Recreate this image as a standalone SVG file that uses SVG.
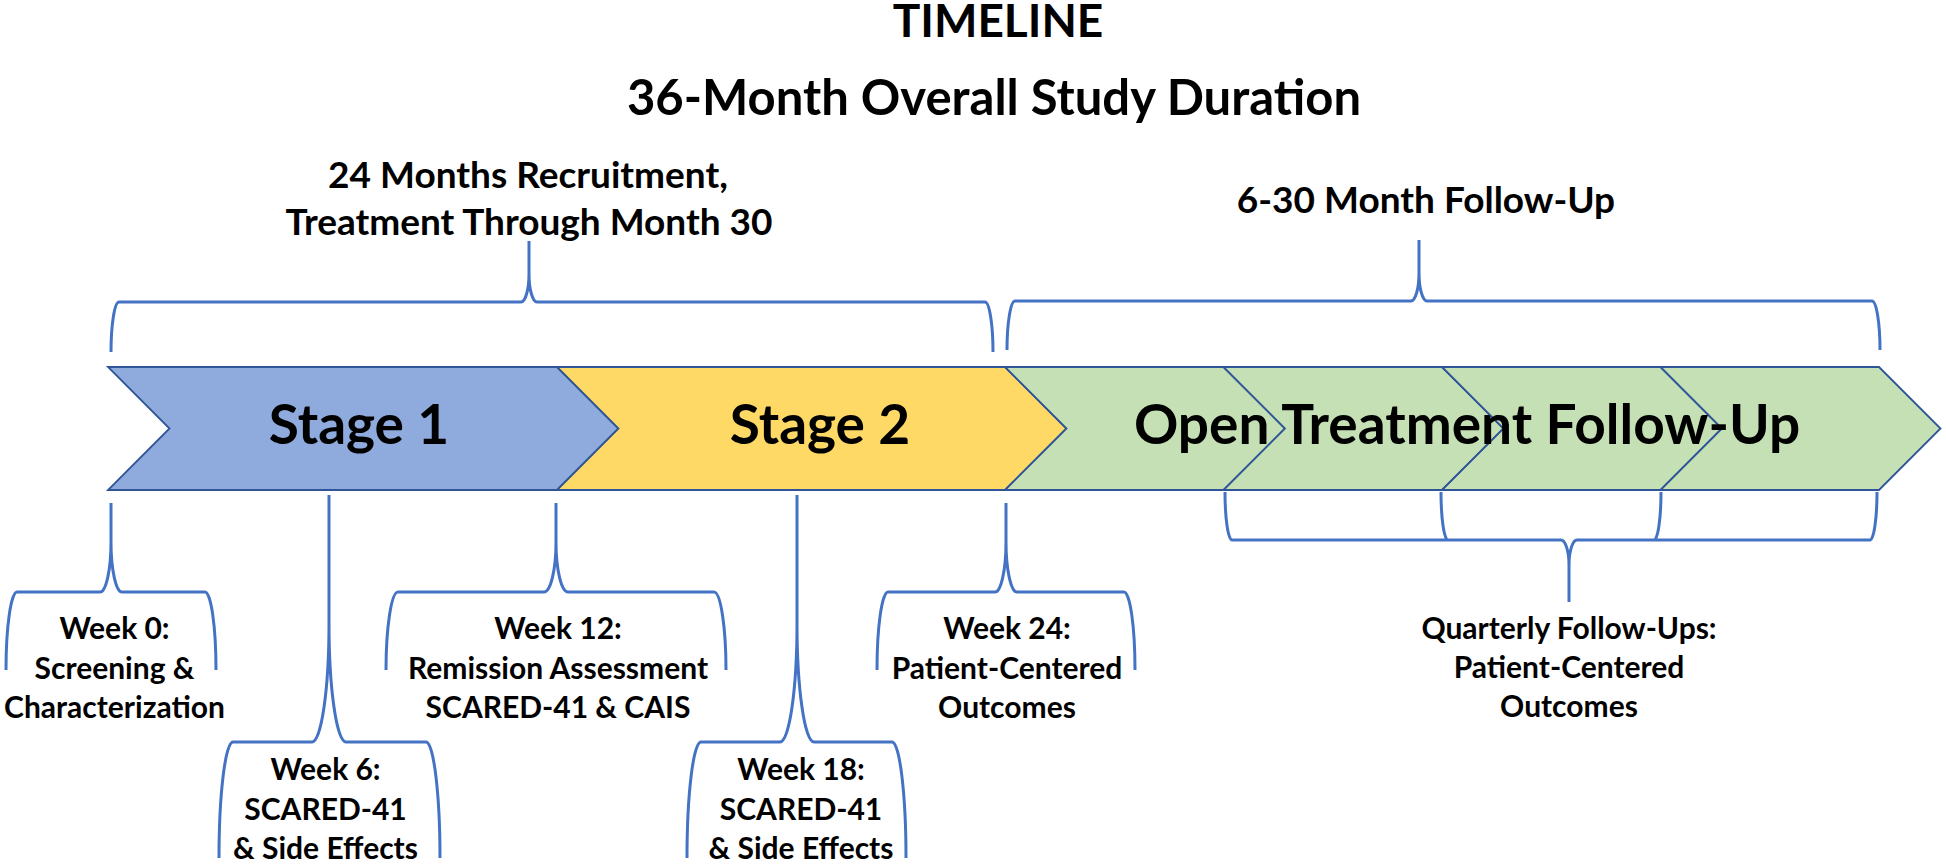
<svg xmlns="http://www.w3.org/2000/svg" width="1946" height="865" viewBox="0 0 1946 865">
<style>
text{font-family:Lato,"Liberation Sans",sans-serif;font-weight:700;fill:#000;text-anchor:middle}
.t1{font-size:46px}
.t2{font-size:49px}
.span{font-size:37px}
.stage{font-size:55px}
.lbl{font-size:30px}
.chev{stroke:#2F5597;stroke-width:1.8;stroke-linejoin:miter}
.s1{fill:#8FAADC}
.s2{fill:#FFD966}
.g{fill:#C5E0B4}
.brace{fill:none;stroke:#4472C4;stroke-width:3}
</style>
<rect width="1946" height="865" fill="#fff"/>
<g id="titles">
<text class="t1" x="998" y="37">TIMELINE</text>
<text class="t2" x="994" y="115">36-Month Overall Study Duration</text>
</g>
<g id="chevrons">
<g id="stage1"><polygon class="chev s1" points="108,367 557,367 618.5,428.5 557,490 108,490 169.5,428.5"/><text class="stage" x="359" y="444">Stage 1</text></g>
<g id="stage2"><polygon class="chev s2" points="557,367 1005,367 1066.5,428.5 1005,490 557,490 618.5,428.5"/><text class="stage" x="820" y="444">Stage 2</text></g>
<g id="followup">
<polygon class="chev g" points="1005,367 1223.5,367 1285,428.5 1223.5,490 1005,490 1066.5,428.5"/>
<polygon class="chev g" points="1223.5,367 1442,367 1503.5,428.5 1442,490 1223.5,490 1285,428.5"/>
<polygon class="chev g" points="1442,367 1660.5,367 1722,428.5 1660.5,490 1442,490 1503.5,428.5"/>
<polygon class="chev g" points="1660.5,367 1879,367 1940.5,428.5 1879,490 1660.5,490 1722,428.5"/>
<text class="stage" x="1467" y="444">Open Treatment Follow-Up</text>
</g>
</g>
<g id="connectors">
<path class="brace" d="M111,352 C111,324.5 114.6,302 119,302 L521,302 C525.4,302 529,289.4 529,274 L529,241 M993,352 C993,324.5 989.4,302 985,302 L537,302 C532.6,302 529,289.4 529,274 L529,241"/>
<path class="brace" d="M1007,350 C1007,323 1010.6,301 1015,301 L1411,301 C1415.4,301 1419,288.4 1419,273 L1419,240 M1880,350 C1880,323 1876.4,301 1872,301 L1427,301 C1422.6,301 1419,288.4 1419,273 L1419,240"/>
<path class="brace" d="M6,670 C6,627.1 10.95,592 17,592 L100,592 C106.05,592 111,569.5 111,542 L111,503 M216,670 C216,627.1 211.05,592 205,592 L122,592 C115.95,592 111,569.5 111,542 L111,503"/>
<path class="brace" d="M219,858 C219,794.2 225.3,742 233,742 L312,742 C321.35,742 329,688.9 329,624 L329,495 M440,858 C440,794.2 433.7,742 426,742 L346,742 C336.65,742 329,688.9 329,624 L329,495"/>
<path class="brace" d="M386,670 C386,627.1 391.4,592 398,592 L544,592 C550.6,592 556,569.5 556,542 L556,503 M726,670 C726,627.1 720.6,592 714,592 L568,592 C561.4,592 556,569.5 556,542 L556,503"/>
<path class="brace" d="M687,858 C687,794.2 693.3,742 701,742 L780,742 C789.35,742 797,688.9 797,624 L797,495 M906,858 C906,794.2 899.7,742 892,742 L814,742 C804.65,742 797,688.9 797,624 L797,495"/>
<path class="brace" d="M877,670 C877,627.1 881.95,592 888,592 L995,592 C1001.05,592 1006,569.5 1006,542 L1006,503 M1135,670 C1135,627.1 1130.05,592 1124,592 L1017,592 C1010.95,592 1006,569.5 1006,542 L1006,503"/>
<path class="brace" d="M1225,492 C1225,518.4 1228.15,540 1232,540 L1561,540 C1565.4,540 1569,551.25 1569,565 L1569,602 M1877,492 C1877,518.4 1873.85,540 1870,540 L1577,540 C1572.6,540 1569,551.25 1569,565 L1569,602 M1441,492 C1441,518.4 1444.15,540 1448,540 M1661,492 C1661,518.4 1657.85,540 1654,540"/>
</g>
<g id="span-recruitment">
<text class="span" x="528" y="188">24 Months Recruitment,</text>
<text class="span" x="529" y="235">Treatment Through Month 30</text>
</g>
<g id="span-followup"><text class="span" x="1426" y="213">6-30 Month Follow-Up</text></g>
<g id="week0"><text class="lbl" x="114.5" y="639">Week 0:</text><text class="lbl" x="114.5" y="679">Screening &amp;</text><text class="lbl" x="114.5" y="718">Characterization</text></g>
<g id="week6"><text class="lbl" x="325.5" y="780">Week 6:</text><text class="lbl" x="325.5" y="820">SCARED-41</text><text class="lbl" x="325.5" y="859">&amp; Side Effects</text></g>
<g id="week12"><text class="lbl" x="558" y="639">Week 12:</text><text class="lbl" x="558" y="679">Remission Assessment</text><text class="lbl" x="558" y="718">SCARED-41 &amp; CAIS</text></g>
<g id="week18"><text class="lbl" x="801" y="780">Week 18:</text><text class="lbl" x="801" y="820">SCARED-41</text><text class="lbl" x="801" y="859">&amp; Side Effects</text></g>
<g id="week24"><text class="lbl" x="1007" y="639">Week 24:</text><text class="lbl" x="1007" y="679">Patient-Centered</text><text class="lbl" x="1007" y="718">Outcomes</text></g>
<g id="quarterly"><text class="lbl" x="1569" y="639">Quarterly Follow-Ups:</text><text class="lbl" x="1569" y="678">Patient-Centered</text><text class="lbl" x="1569" y="717">Outcomes</text></g>
</svg>
